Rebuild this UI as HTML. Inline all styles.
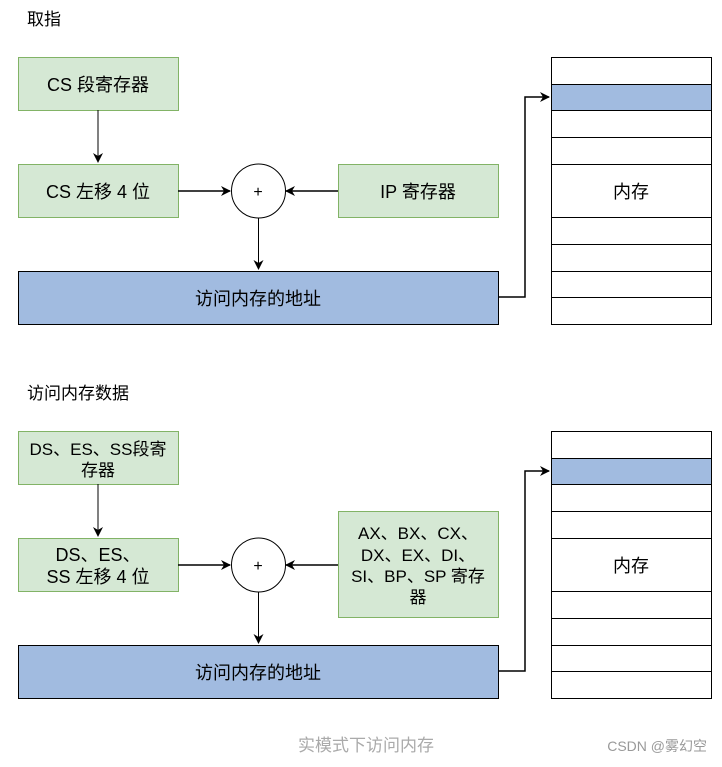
<!DOCTYPE html>
<html><head><meta charset="utf-8"><style>
body{margin:0;background:#fff;}
svg text{font-family:"Liberation Sans","Noto Sans CJK SC",sans-serif;}
</style></head><body>
<svg width="722" height="762" viewBox="0 0 722 762" xmlns="http://www.w3.org/2000/svg">
<defs><marker id="a" markerWidth="10" markerHeight="10" refX="9" refY="5" orient="auto" markerUnits="userSpaceOnUse"><path d="M0,0 L10,5 L0,10 L3,5 Z" fill="#000"/></marker></defs>
<g font-size="18" text-anchor="middle">
<text x="27" y="25" text-anchor="start" font-size="17">取指</text>
<rect x="18.5" y="57.5" width="160" height="53" fill="#d5e8d4" stroke="#82b366"/>
<text x="98" y="91">CS 段寄存器</text>
<rect x="18.5" y="164.5" width="160" height="53" fill="#d5e8d4" stroke="#82b366"/>
<text x="98" y="198">CS 左移 4 位</text>
<rect x="338.5" y="164.5" width="160" height="53" fill="#d5e8d4" stroke="#82b366"/>
<text x="418" y="198">IP 寄存器</text>
<ellipse cx="258.5" cy="191" rx="27" ry="27" fill="#fff" stroke="#000"/>
<text x="258" y="197" font-size="16">+</text>
<rect x="18.5" y="271.5" width="480" height="53" fill="#a1bbe0" stroke="#000"/>
<text x="258" y="305">访问内存的地址</text>
<line x1="98" y1="110" x2="98" y2="162" stroke="#000" marker-end="url(#a)"/>
<line x1="178" y1="191" x2="230" y2="191" stroke="#000" stroke-width="1.5" marker-end="url(#a)"/>
<line x1="338" y1="191" x2="286" y2="191" stroke="#000" stroke-width="1.5" marker-end="url(#a)"/>
<line x1="258.5" y1="218" x2="258.5" y2="269" stroke="#000" marker-end="url(#a)"/>
<polyline points="498,297 525,297 525,97 549,97" fill="none" stroke="#000" stroke-width="1.5" marker-end="url(#a)"/>
<g stroke="#000" fill="#fff">
<rect x="551.5" y="57.5" width="160" height="27"/>
<rect x="551.5" y="84.5" width="160" height="26" fill="#a1bbe0"/>
<rect x="551.5" y="110.5" width="160" height="27"/>
<rect x="551.5" y="137.5" width="160" height="27"/>
<rect x="551.5" y="164.5" width="160" height="53"/>
<rect x="551.5" y="217.5" width="160" height="27"/>
<rect x="551.5" y="244.5" width="160" height="27"/>
<rect x="551.5" y="271.5" width="160" height="26"/>
<rect x="551.5" y="297.5" width="160" height="27"/>
</g>
<text x="631" y="198">内存</text>

<text x="27" y="399" text-anchor="start" font-size="17">访问内存数据</text>
<rect x="18.5" y="431.5" width="160" height="53" fill="#d5e8d4" stroke="#82b366"/>
<text x="98" y="455" font-size="17">DS、ES、SS段寄</text>
<text x="98" y="476" font-size="17">存器</text>
<rect x="18.5" y="538.5" width="160" height="53" fill="#d5e8d4" stroke="#82b366"/>
<text x="98" y="561">DS、ES、</text>
<text x="98" y="583">SS 左移 4 位</text>
<rect x="338.5" y="511.5" width="160" height="106" fill="#d5e8d4" stroke="#82b366"/>
<text x="418" y="539" font-size="17">AX、BX、CX、</text>
<text x="418" y="561" font-size="17">DX、EX、DI、</text>
<text x="418" y="582" font-size="17">SI、BP、SP 寄存</text>
<text x="418" y="603" font-size="17">器</text>
<ellipse cx="258.5" cy="565" rx="27" ry="27" fill="#fff" stroke="#000"/>
<text x="258" y="571" font-size="16">+</text>
<rect x="18.5" y="645.5" width="480" height="53" fill="#a1bbe0" stroke="#000"/>
<text x="258" y="679">访问内存的地址</text>
<line x1="98" y1="484" x2="98" y2="536" stroke="#000" marker-end="url(#a)"/>
<line x1="178" y1="565" x2="230" y2="565" stroke="#000" stroke-width="1.5" marker-end="url(#a)"/>
<line x1="338" y1="565" x2="286" y2="565" stroke="#000" stroke-width="1.5" marker-end="url(#a)"/>
<line x1="258.5" y1="592" x2="258.5" y2="643" stroke="#000" marker-end="url(#a)"/>
<polyline points="498,671 525,671 525,471 549,471" fill="none" stroke="#000" stroke-width="1.5" marker-end="url(#a)"/>
<g stroke="#000" fill="#fff">
<rect x="551.5" y="431.5" width="160" height="27"/>
<rect x="551.5" y="458.5" width="160" height="26" fill="#a1bbe0"/>
<rect x="551.5" y="484.5" width="160" height="27"/>
<rect x="551.5" y="511.5" width="160" height="27"/>
<rect x="551.5" y="538.5" width="160" height="53"/>
<rect x="551.5" y="591.5" width="160" height="27"/>
<rect x="551.5" y="618.5" width="160" height="27"/>
<rect x="551.5" y="645.5" width="160" height="26"/>
<rect x="551.5" y="671.5" width="160" height="27"/>
</g>
<text x="631" y="572">内存</text>
<text x="366" y="751" fill="#aaa" font-size="17">实模式下访问内存</text>
<text x="707" y="751" text-anchor="end" font-size="14" fill="#999">CSDN @雾幻空</text>
</g>
</svg>
</body></html>
